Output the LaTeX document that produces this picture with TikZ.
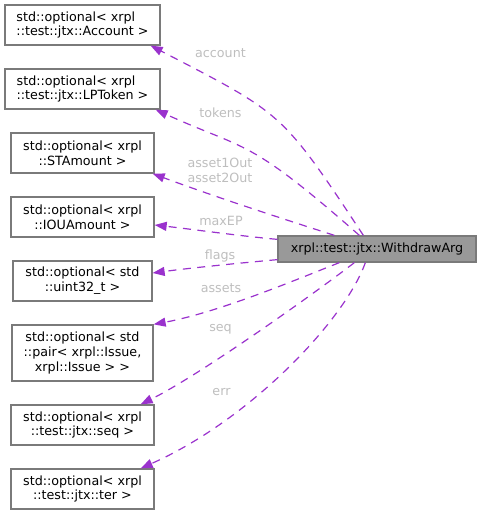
\documentclass[tikz,border=0pt]{standalone}
\usepackage{fontspec}
\setmainfont{DejaVu Sans}
\usetikzlibrary{arrows.meta,calc}
\definecolor{edgec}{HTML}{9A32CD}
\definecolor{boxline}{HTML}{7A7A7A}
\definecolor{mainfill}{HTML}{999999}
\definecolor{labc}{HTML}{BEBEBE}
\begin{document}
\begin{tikzpicture}[x=1pt,y=-1pt,
  every node/.style={font=\fontsize{12.7pt}{14.7pt}\selectfont},
  tbox/.style={draw=boxline, line width=1.3pt, fill=white, inner sep=0pt, align=center},
  mainbox/.style={tbox, fill=mainfill},
  elab/.style={text=labc, inner sep=0pt},
  dep/.style={draw=edgec, line width=1.2pt, dash pattern=on 8pt off 6.5pt,
    -{Triangle[length=12pt,width=9pt]}, fill=none}]
\useasboundingbox (0,0) rectangle (481,515);
% nodes
\node[tbox, minimum width=155pt, minimum height=40pt, align=left] (acc) at (82.5,25) {std::optional< xrpl\\::test::jtx::Account >};
\node[tbox, minimum width=155pt, minimum height=40pt, align=left] (lpt) at (82.5,89) {std::optional< xrpl\\::test::jtx::LPToken >};
\node[tbox, minimum width=143pt, minimum height=40pt] (sta) at (82.5,153) {std::optional< xrpl\\::STAmount >};
\node[tbox, minimum width=143pt, minimum height=40pt] (iou) at (82.5,217) {std::optional< xrpl\\::IOUAmount >};
\node[tbox, minimum width=139pt, minimum height=40pt] (u32) at (82.5,281) {std::optional< std\\::uint32\_t >};
\node[tbox, minimum width=141pt, minimum height=56pt] (pair) at (82.5,353) {std::optional< std\\::pair< xrpl::Issue,\\xrpl::Issue > >};
\node[tbox, minimum width=143pt, minimum height=40pt] (seq) at (82.5,425) {std::optional< xrpl\\::test::jtx::seq >};
\node[tbox, minimum width=143pt, minimum height=40pt] (ter) at (82.5,489) {std::optional< xrpl\\::test::jtx::ter >};
\node[mainbox, minimum width=198pt, minimum height=26pt] (m) at (377,249) {xrpl::test::jtx::WithdrawArg};
% edges
\draw[dep] ($(m.north west)+(86,0)$) .. controls (281.5,111.5) and (283.5,114.5) .. ($(acc.south east)+(-10,0)$);
\draw[dep] ($(m.north west)+(82,0)$) .. controls (247.5,137) and (247,151) .. ($(lpt.south east)+(-5,0)$);
\draw[dep] ($(m.north west)+(57,0)$) .. controls (274,216) and (213,196) .. ($(sta.south east)+(-2,0)$);
\draw[dep] ($(m.north west)+(0,4)$) .. controls (240,236) and (190,229) .. ($(iou.east)+(0,8)$);
\draw[dep] ($(m.south west)+(0,-3)$) .. controls (240,263) and (190,268) .. ($(u32.east)+(0,-8)$);
\draw[dep] ($(m.south west)+(62,0)$) .. controls (300,278) and (220,312) .. (pair.north east);
\draw[dep] ($(m.south west)+(77,0)$) .. controls (315,293) and (200,375) .. ($(seq.north east)+(-14,0)$);
\draw[dep] ($(m.south west)+(88,0)$) .. controls (345,320) and (250,420) .. ($(ter.north east)+(-14,0)$);
% labels
\node[elab] (lacc) at (220.5,53) {account};
\node[elab] (ltok) at (220.5,113) {tokens};
\node[elab, align=center] (lass) at (220,170.5) {asset1Out\\asset2Out};
\node[elab] (lmax) at (221,221) {maxEP};
\node[elab] (lflg) at (220,256) {flags};
\node[elab] (lasts) at (221,288) {assets};
\node[elab] (lseq) at (220.5,329) {seq};
\node[elab] (lerr) at (221.5,392) {err};
\end{tikzpicture}
\end{document}
